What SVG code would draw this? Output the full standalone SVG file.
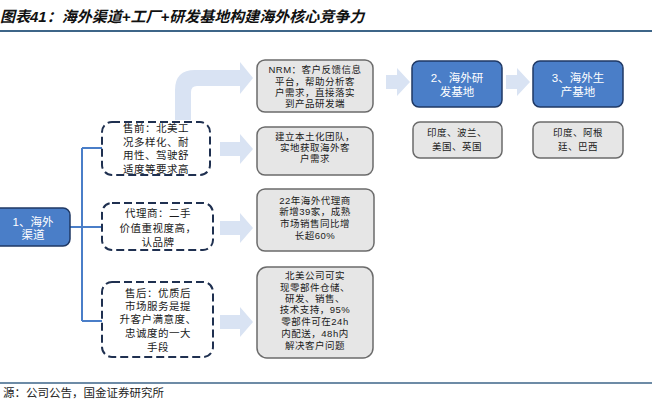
<svg xmlns="http://www.w3.org/2000/svg" width="655" height="407" viewBox="0 0 655 407">
<style>
text{font-family:"Liberation Sans","Noto Sans CJK SC",sans-serif;}
.t{font-size:9.5px;letter-spacing:0.5px;fill:#1a1a1a;text-anchor:middle;}
.d{font-size:10.5px;letter-spacing:0.5px;fill:#1a1a1a;text-anchor:middle;}
.w{font-size:11.5px;fill:#ffffff;text-anchor:middle;}
.blue{fill:#4a7ec8;stroke:#1f3864;stroke-width:1.5;}
.gray{fill:#e6e6e6;stroke:#6b6b6b;stroke-width:1.5;}
.dash{fill:#ffffff;stroke:#1f3050;stroke-width:2;stroke-dasharray:8 4;}
.ba{fill:#d9e3f3;}
.ln{stroke:#4a7ec8;stroke-width:2;fill:none;}
</style>
<rect x="0" y="0" width="655" height="407" fill="#ffffff"/>
<g id="title">
<text x="0" y="22" style="font-size:15px;font-weight:bold;font-style:italic;fill:#111">图表41：海外渠道+工厂+研发基地构建海外核心竞争力</text>
<line x1="0" y1="31" x2="652" y2="31" stroke="#3d6588" stroke-width="2"/>
</g>
<g id="footer">
<line x1="0" y1="383" x2="652" y2="383" stroke="#3d6588" stroke-width="1.5"/>
<text x="3" y="397" style="font-size:11.5px;fill:#222">源：公司公告，国金证券研究所</text>
</g>
<g id="connectors">
<line class="ln" x1="70" y1="227" x2="82" y2="227"/>
<line class="ln" x1="82" y1="148" x2="82" y2="321"/>
<line class="ln" x1="82" y1="148" x2="102" y2="148"/>
<line class="ln" x1="82" y1="227" x2="102" y2="227"/>
<line class="ln" x1="82" y1="321" x2="102" y2="321"/>
<path class="ba" d="M175,120 L175,90 Q175,70 195,70 L240,70 L240,62 L253,78 L240,94 L240,86 L197,86 Q191,86 191,92 L191,120 Z"/>
<path class="ba" d="M220,142 L240,142 L240,134 L253,149 L240,164 L240,156 L220,156 Z"/>
<path class="ba" d="M220,221 L240,221 L240,213 L253,228 L240,243 L240,235 L220,235 Z"/>
<path class="ba" d="M220,315 L240,315 L240,307 L253,322 L240,337 L240,329 L220,329 Z"/>
<path class="ba" d="M386,75 L397,75 L397,68 L410,82 L397,96 L397,89 L386,89 Z"/>
<path class="ba" d="M506,75 L517,75 L517,68 L530,82 L517,96 L517,89 L506,89 Z"/>
</g>
<g id="node1">
<rect class="blue" x="-8" y="208" width="78" height="38" rx="7"/>
<text class="w" x="33" y="226">1、海外</text>
<text class="w" x="33" y="239">渠道</text>
</g>
<g id="pre-sale">
<rect class="dash" x="102" y="122" width="108" height="53" rx="10"/>
<text class="d" x="156" y="132">售前：北美工</text>
<text class="d" x="156" y="146">况多样化、耐</text>
<text class="d" x="156" y="159">用性、驾驶舒</text>
<text class="d" x="156" y="173">适度等要求高</text>
</g>
<g id="dealer">
<rect class="dash" x="102" y="203" width="111" height="47" rx="10"/>
<text class="d" x="158" y="217">代理商：二手</text>
<text class="d" x="158" y="232">价值重视度高，</text>
<text class="d" x="158" y="246">认品牌</text>
</g>
<g id="after-sale">
<rect class="dash" x="102" y="282" width="111" height="75" rx="10"/>
<text class="d" x="158" y="297">售后：优质后</text>
<text class="d" x="158" y="310">市场服务是提</text>
<text class="d" x="158" y="323">升客户满意度、</text>
<text class="d" x="158" y="337">忠诚度的一大</text>
<text class="d" x="158" y="351">手段</text>
</g>
<g id="nrm">
<rect class="gray" x="257" y="60" width="116" height="52" rx="8"/>
<text class="t" x="315" y="73">NRM：客户反馈信息</text>
<text class="t" x="315" y="85">平台，帮助分析客</text>
<text class="t" x="315" y="96">户需求，直接落实</text>
<text class="t" x="315" y="107">到产品研发端</text>
</g>
<g id="team">
<rect class="gray" x="257" y="127" width="116" height="48" rx="8"/>
<text class="t" x="315" y="140">建立本土化团队，</text>
<text class="t" x="315" y="151">实地获取海外客</text>
<text class="t" x="315" y="162">户需求</text>
</g>
<g id="dealers22">
<rect class="gray" x="257" y="189" width="117" height="62" rx="8"/>
<text class="t" x="315" y="204">22年海外代理商</text>
<text class="t" x="315" y="215">新增39家，成熟</text>
<text class="t" x="315" y="227">市场销售同比增</text>
<text class="t" x="315" y="239">长超60%</text>
</g>
<g id="na-company">
<rect class="gray" x="257" y="267" width="116" height="91" rx="10"/>
<text class="t" x="315" y="279">北美公司可实</text>
<text class="t" x="315" y="291">现零部件仓储、</text>
<text class="t" x="315" y="302">研发、销售、</text>
<text class="t" x="315" y="313">技术支持，95%</text>
<text class="t" x="315" y="325">零部件可在24h</text>
<text class="t" x="315" y="337">内配送，48h内</text>
<text class="t" x="315" y="349">解决客户问题</text>
</g>
<g id="node2">
<rect class="blue" x="412" y="61" width="90" height="46" rx="7"/>
<text class="w" x="457" y="82">2、海外研</text>
<text class="w" x="457" y="96">发基地</text>
</g>
<g id="node3">
<rect class="blue" x="533" y="61" width="90" height="46" rx="7"/>
<text class="w" x="578" y="82">3、海外生</text>
<text class="w" x="578" y="96">产基地</text>
</g>
<g id="rd-countries">
<rect class="gray" x="413" y="122" width="89" height="36" rx="7"/>
<text class="t" x="457" y="136">印度、波兰、</text>
<text class="t" x="457" y="150">美国、英国</text>
</g>
<g id="prod-countries">
<rect class="gray" x="533" y="122" width="90" height="36" rx="7"/>
<text class="t" x="578" y="136">印度、阿根</text>
<text class="t" x="578" y="150">廷、巴西</text>
</g>
</svg>
